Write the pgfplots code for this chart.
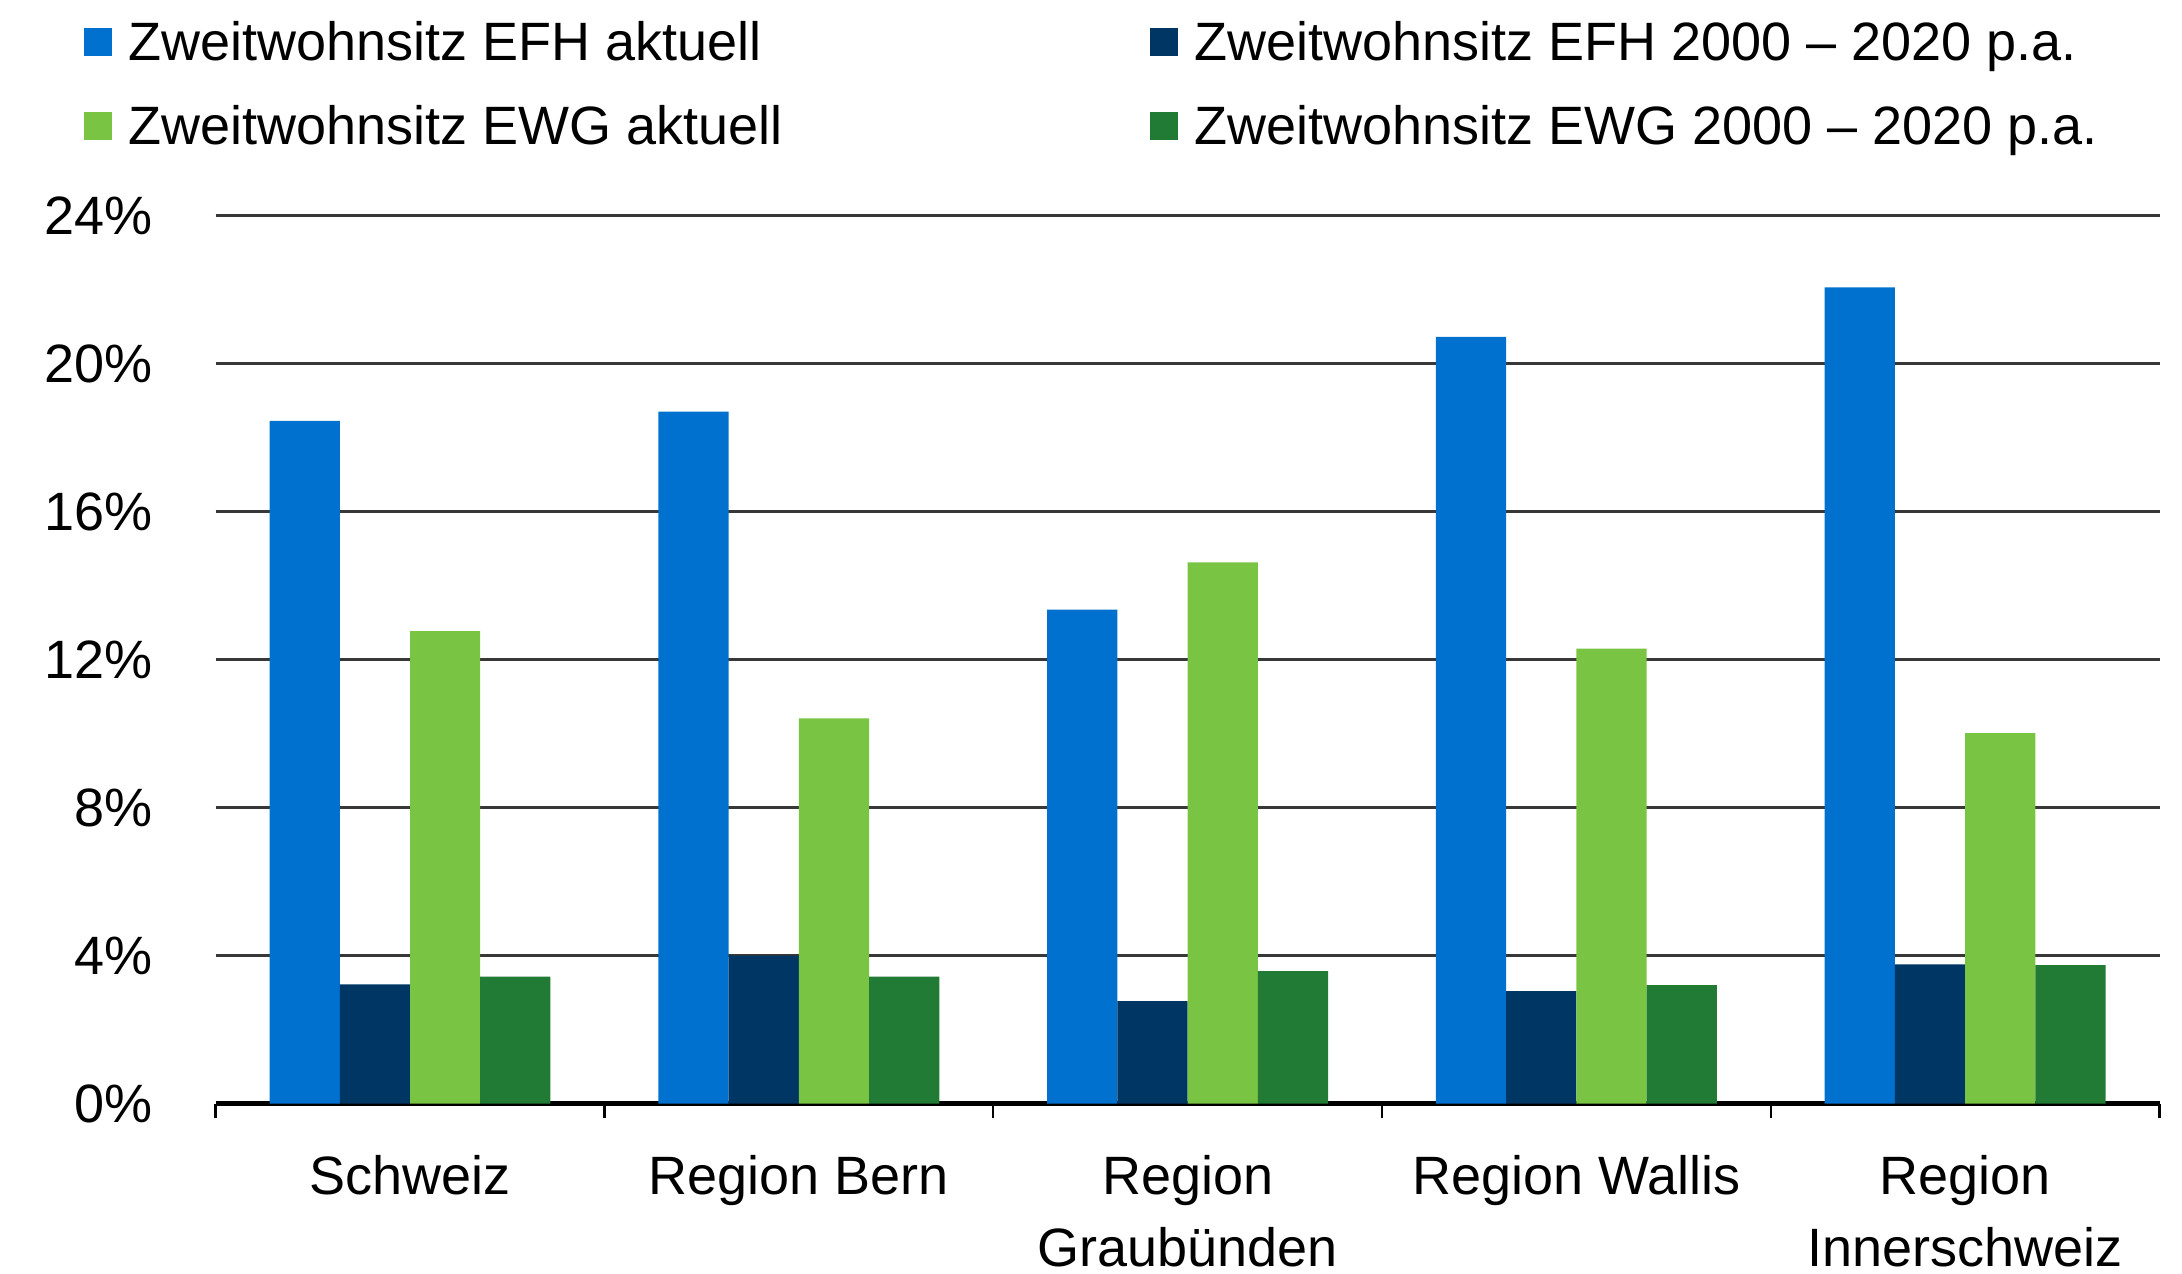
\documentclass[border=0pt]{standalone}
\usepackage{fontspec}
\setmainfont{Liberation Sans}
\usepackage{pgfplots}
\pgfplotsset{compat=1.18}
\definecolor{cBlue}{RGB}{0,113,206}
\definecolor{cNavy}{RGB}{0,54,100}
\definecolor{cLight}{RGB}{122,196,67}
\definecolor{cGreen}{RGB}{33,123,53}
\pgfplotsset{ybar legend/.style={legend image code/.code={\fill[##1,draw=none] (0pt,-2.3pt) rectangle (7pt,4.7pt);}}}
\begin{document}
\fontsize{13.5}{17.4}\selectfont
\begin{tikzpicture}
\path[use as bounding box] (-53.9pt,-42.35pt) rectangle (491.6pt,275.9pt);
\begin{axis}[
  at={(0pt,0pt)}, anchor=south west,
  scale only axis, width=486pt, height=222pt,
  xmin=-0.5, xmax=4.5, ymin=0, ymax=24,
  enlargelimits=false,
  ybar=0pt, bar width=17.56pt,
  axis x line=bottom, axis y line=left, axis line style={-},
  x axis line style={black, line width=1.1pt},
  y axis line style={draw=none},
  xtick={0,...,4},
  xticklabels={Schweiz, Region Bern, {Region\\Graubünden}, Region Wallis, {Region\\Innerschweiz}},
  minor xtick={-0.5,0.5,...,4.5},
  tick align=outside,
  major tick length=0pt,
  minor tick length=3.6pt,
  major x tick style={draw=none},
  minor x tick style={black, line width=0.6pt},
  ytick={0,4,...,24},
  ytick style={draw=none},
  yticklabel={\pgfmathprintnumber{\tick}\%},
  /pgf/number format/assume math mode=true,
  yticklabel style={anchor=east, inner sep=0pt, xshift=-15.6pt, font=\fontsize{13.5}{16}\selectfont},
  xticklabel style={anchor=north, align=center, inner sep=0pt, yshift=-12.8pt, font=\fontsize{13.5}{18}\selectfont},
  ymajorgrids,
  major grid style={black!78, line width=0.85pt},
  legend columns=2,
  legend cell align=left,
  legend style={at={(-0.0679,1.2192)}, anchor=north west, draw=none, fill=none,
    inner sep=0pt, outer sep=0pt, row sep=7.9pt,
    nodes={inner sep=0pt, text height=10pt, text depth=3pt, font=\fontsize{13.5}{16}\selectfont},
    /tikz/every odd column/.append style={column sep=4.2pt},
    /tikz/every even column/.append style={column sep=91.8pt}},
]
\addplot[fill=cBlue, draw=none] coordinates {(0,18.45) (1,18.70) (2,13.35) (3,20.72) (4,22.06)};
\addplot[fill=cNavy, draw=none] coordinates {(0,3.22) (1,4.00) (2,2.77) (3,3.04) (4,3.76)};
\addplot[fill=cLight, draw=none] coordinates {(0,12.77) (1,10.41) (2,14.63) (3,12.30) (4,10.01)};
\addplot[fill=cGreen, draw=none] coordinates {(0,3.43) (1,3.43) (2,3.58) (3,3.20) (4,3.74)};
\legend{Zweitwohnsitz EFH aktuell, Zweitwohnsitz EFH 2000 -- 2020 p.a., Zweitwohnsitz EWG aktuell, Zweitwohnsitz EWG 2000 -- 2020 p.a.}
\end{axis}
\end{tikzpicture}
\end{document}
